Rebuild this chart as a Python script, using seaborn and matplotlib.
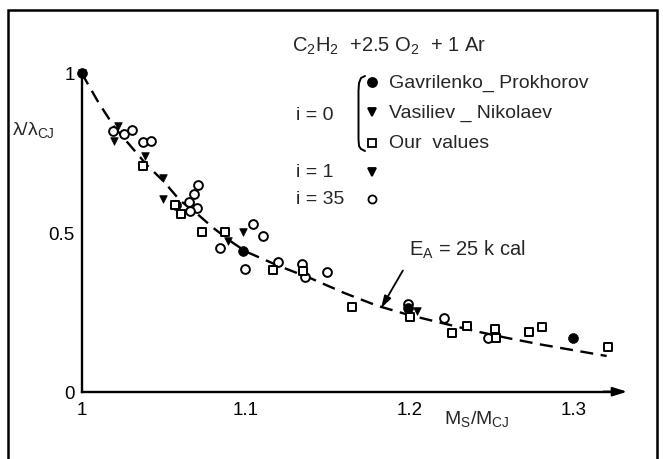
import numpy as np
import pandas as pd
import matplotlib
matplotlib.use("Agg")
import matplotlib.pyplot as plt
import seaborn as sns
from matplotlib.lines import Line2D
from matplotlib.patches import Rectangle

# ---------------- data ----------------
# Gavrilenko - Prokhorov (i = 0), filled circles
gavr_x = [1.000, 1.0986, 1.199, 1.2995]
gavr_y = [1.000, 0.442, 0.262, 0.168]

# Vasiliev - Nikolaev (i = 0) and i = 1 points, filled triangles
tri_x = [1.000, 1.0224, 1.020, 1.0387, 1.0495, 1.0495, 1.0895, 1.0986, 1.2044]
tri_y = [1.000, 0.835, 0.788, 0.741, 0.670, 0.605, 0.474, 0.500, 0.254]

# Our values (i = 0), open squares
sq_x = [1.0376, 1.0604, 1.057, 1.0733, 1.0875, 1.1166, 1.1352, 1.1647, 1.2000,
        1.2257, 1.2349, 1.2521, 1.2528, 1.2725, 1.2806, 1.3207]
sq_y = [0.707, 0.558, 0.585, 0.500, 0.500, 0.382, 0.380, 0.265, 0.233,
        0.183, 0.205, 0.197, 0.168, 0.188, 0.204, 0.139]

# i = 35, open circles
oc_x = [1.0193, 1.026, 1.0306, 1.0376, 1.0423, 1.0576, 1.0657, 1.0687, 1.0712,
        1.0702, 1.0661, 1.0844, 1.1047, 1.1108, 1.0997, 1.120, 1.1343, 1.1363,
        1.1495, 1.199, 1.2206, 1.2475]
oc_y = [0.819, 0.809, 0.822, 0.783, 0.788, 0.586, 0.594, 0.620, 0.649,
        0.576, 0.568, 0.450, 0.526, 0.488, 0.385, 0.406, 0.401, 0.359,
        0.375, 0.275, 0.230, 0.168]

# E_A = 25 kcal curve (dashed)
curve_x = [1.00, 1.01, 1.02, 1.03, 1.04, 1.05, 1.06, 1.07, 1.08, 1.09, 1.10,
           1.12, 1.14, 1.16, 1.18, 1.20, 1.22, 1.24, 1.26, 1.28, 1.30, 1.32]
curve_y = [1.00, 0.91, 0.83, 0.77, 0.71, 0.66, 0.60, 0.56, 0.515, 0.475, 0.44,
           0.395, 0.355, 0.31, 0.27, 0.24, 0.215, 0.19, 0.168, 0.148, 0.13, 0.112]

x_ticks = [1.0, 1.1, 1.2, 1.3]
x_tick_labels = ["1", "1.1", "1.2", "1.3"]
y_ticks = [0.0, 0.5, 1.0]
y_tick_labels = ["0", "0.5", "1"]

# ---------------- style ----------------
sns.set_theme(style="white")
FONT = ["Liberation Sans", "DejaVu Sans"]
plt.rcParams["font.family"] = FONT
plt.rcParams["mathtext.fontset"] = "custom"
plt.rcParams["mathtext.rm"] = "Liberation Sans"
plt.rcParams["mathtext.it"] = "Liberation Sans"
plt.rcParams["mathtext.bf"] = "Liberation Sans"

W, H = 663, 460
fig = plt.figure(figsize=(W / 100, H / 100), dpi=100)
fig.patch.set_facecolor("white")

def fx(px):
    return px / W

def fy(py):
    return 1 - py / H

x0_px, x1_px = 81.6, 628.0
y0_px, y1_px = 392.7, 73.0
px_per_x = 1640.7
px_per_y = 318.7
ax = fig.add_axes([fx(x0_px), fy(y0_px), (x1_px - x0_px) / W, (y0_px - y1_px) / H])
ax.set_xlim(1.0, 1.0 + (x1_px - x0_px) / px_per_x)
ax.set_ylim(0.0, (y0_px - y1_px) / px_per_y)
ax.set_facecolor("white")

# curve
curve_df = pd.DataFrame({"x": curve_x, "y": curve_y})
sns.lineplot(data=curve_df, x="x", y="y", ax=ax, color="black", lw=1.7,
             linestyle=(0, (5.5, 3.2)), sort=False, zorder=2)

# points
sns.scatterplot(x=oc_x, y=oc_y, ax=ax, marker="o", s=40, facecolor="white",
                edgecolor="black", linewidth=1.4, zorder=3, clip_on=False)
sns.scatterplot(x=sq_x, y=sq_y, ax=ax, marker="s", s=36, facecolor="white",
                edgecolor="black", linewidth=1.4, zorder=3, clip_on=False)
sns.scatterplot(x=tri_x, y=tri_y, ax=ax, marker="v", s=30, color="black",
                edgecolor="black", linewidth=0.5, zorder=4, clip_on=False)
sns.scatterplot(x=gavr_x, y=gavr_y, ax=ax, marker="o", s=50, color="black",
                edgecolor="black", linewidth=0.5, zorder=4, clip_on=False)

# axes
for side in ["top", "right"]:
    ax.spines[side].set_visible(False)
for side in ["left", "bottom"]:
    ax.spines[side].set_linewidth(1.7)
    ax.spines[side].set_color("black")
ax.spines["bottom"].set_bounds(1.0, 1.322)
ax.annotate("", xy=(1.3325, 0), xytext=(1.318, 0), xycoords="data",
            arrowprops=dict(arrowstyle="-|>,head_length=0.7,head_width=0.22",
                            color="black", lw=1.6, shrinkA=0, shrinkB=0),
            annotation_clip=False)

ax.set_xticks(x_ticks)
ax.set_xticklabels(x_tick_labels)
ax.set_yticks(y_ticks)
ax.set_yticklabels(y_tick_labels)
ax.tick_params(axis="x", direction="in", length=7, width=1.5, pad=7,
               labelsize=13.5, colors="black")
ax.tick_params(axis="y", direction="out", length=4, width=1.5, pad=1,
               labelsize=13.5, colors="black")
yt = ax.yaxis.get_major_ticks()
yt[0].tick1line.set_visible(False)
yt[2].tick1line.set_visible(False)
ax.xaxis.get_major_ticks()[0].tick1line.set_visible(False)
ax.set_xlabel("")
ax.set_ylabel("")

# axis labels
fig.text(fx(12), fy(130), "λ/λ$_{\\mathrm{CJ}}$", fontsize=14, ha="left", va="center")
fig.text(fx(444), fy(419), "M$_{\\mathrm{S}}$/M$_{\\mathrm{CJ}}$", fontsize=14,
         ha="left", va="center")

# annotation for curve
ax.annotate("E$_{\\mathrm{A}}$ = 25 k cal", xy=(1.1825, 0.262), xytext=(1.1995, 0.448),
            fontsize=14.5, ha="left", va="center",
            arrowprops=dict(arrowstyle="-|>,head_length=0.5,head_width=0.15",
                            color="black", lw=1.3, shrinkA=6, shrinkB=0,
                            relpos=(0.0, 0.0)))

# title / legend block
fig.text(fx(292), fy(46), "C$_2$H$_2$  +2.5 O$_2$  + 1 Ar", fontsize=14.5,
         ha="left", va="center")
fig.text(fx(296), fy(115), "i = 0", fontsize=14, ha="left", va="center")
fig.text(fx(296), fy(173), "i = 1", fontsize=14, ha="left", va="center")
fig.text(fx(296), fy(200), "i = 35", fontsize=14, ha="left", va="center")
fig.text(fx(389), fy(83), "Gavrilenko_ Prokhorov", fontsize=14, ha="left", va="center")
fig.text(fx(389), fy(113), "Vasiliev _ Nikolaev", fontsize=14, ha="left", va="center")
fig.text(fx(389), fy(144), "Our  values", fontsize=14, ha="left", va="center")

leg_items = [
    (83, "o", "black", 6.5),
    (113, "v", "black", 5.5),
    (144, "s", "white", 5.5),
    (173, "v", "black", 5.5),
    (200, "o", "white", 5.8),
]
for py, mk, fc, ms in leg_items:
    fig.add_artist(Line2D([fx(372)], [fy(py)], marker=mk, markersize=ms,
                          markerfacecolor=fc, markeredgecolor="black",
                          markeredgewidth=1.3, linestyle="none",
                          transform=fig.transFigure))

# brace
bx = [365, 361, 359, 358.5, 358.5, 359, 361, 365]
by = [77, 79, 84, 92, 140, 147, 150, 152]
fig.add_artist(Line2D([fx(v) for v in bx], [fy(v) for v in by], color="black",
                      lw=1.4, transform=fig.transFigure))

# outer frame (open at the bottom edge of the image)
fig.add_artist(Rectangle((fx(8), fy(470)), fx(657) - fx(8), fy(11) - fy(470),
                         fill=False, edgecolor="black", lw=1.8,
                         transform=fig.transFigure, clip_on=False))

fig.savefig("out.png", dpi=100, facecolor="white")
